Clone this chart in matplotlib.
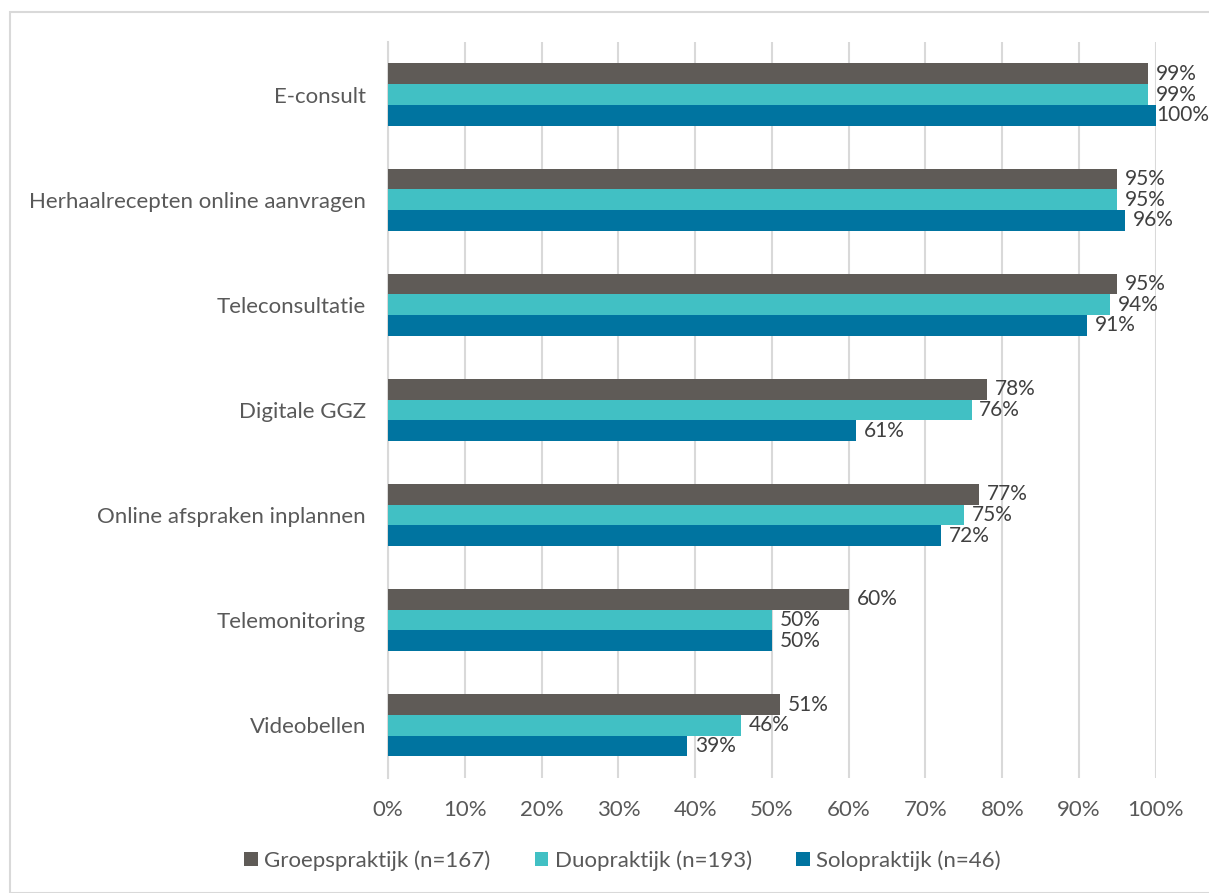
import matplotlib.pyplot as plt
import numpy as np
from matplotlib.patches import Rectangle

######################################################################## data

categories = ['E-consult', 'Herhaalrecepten online aanvragen', 'Teleconsultatie',
              'Digitale GGZ', 'Online afspraken inplannen', 'Telemonitoring', 'Videobellen']
series_names = ['Groepspraktijk (n=167)', 'Duopraktijk (n=193)', 'Solopraktijk (n=46)']
groep = [99, 95, 95, 78, 77, 60, 51]
duo = [99, 95, 94, 76, 75, 50, 46]
solo = [100, 96, 91, 61, 72, 50, 39]
x_ticks = list(range(0, 101, 10))

colors = ['#5f5b57', '#41c0c4', '#0074a0']

####################################################################### figure

plt.rcParams['font.family'] = ['Lato', 'DejaVu Sans']
TEXT = '#595959'
FS = 16

fig = plt.figure(figsize=(12.09, 8.93), dpi=100)
ax = fig.add_axes([0.321, 0.129, 0.635, 0.824])

bar_h = 0.197
y = np.arange(len(categories))
for i, (vals, c, name) in enumerate(zip([groep, duo, solo], colors, series_names)):
    pos = y + (i - 1) * bar_h
    bars = ax.barh(pos, vals, height=bar_h, color=c, label=name, zorder=3)
    for b, v in zip(bars, vals):
        # excel pushes the label of a full bar inward so it stays inside the chart
        xt = min(v + 1.0, 100.1)
        ax.text(xt, b.get_y() + b.get_height() / 2, f'{v}%', va='center', ha='left',
                fontsize=15, color='#404040', zorder=4, clip_on=False)

ax.set_ylim(len(categories) - 0.5, -0.5)
ax.set_xlim(0, 100)
ax.set_yticks(y)
ax.set_yticklabels(categories, fontsize=FS, color=TEXT)
ax.set_xticks(x_ticks)
ax.set_xticklabels([f'{t}%' for t in x_ticks], fontsize=FS, color=TEXT)
ax.tick_params(axis='y', length=0, pad=16)
ax.tick_params(axis='x', length=0, pad=16)
ax.grid(axis='x', color='#d9d9d9', linewidth=1.5, zorder=0)
for s in ['top', 'right', 'bottom']:
    ax.spines[s].set_visible(False)
ax.spines['left'].set_color('#d9d9d9')
ax.spines['left'].set_linewidth(1.5)

ax.legend(loc='center', bbox_to_anchor=(0.515, 0.036), bbox_transform=fig.transFigure,
          ncol=3, frameon=False, fontsize=FS, labelcolor=TEXT, handlelength=0.6,
          handleheight=0.6, handletextpad=0.3, columnspacing=2.0)

fig.patches.append(Rectangle((10 / 1209, 0), 1.2, 1 - 12 / 893, transform=fig.transFigure,
                             fill=False, edgecolor='#d9d9d9', linewidth=1.5))

fig.savefig('out.png', dpi=100)
